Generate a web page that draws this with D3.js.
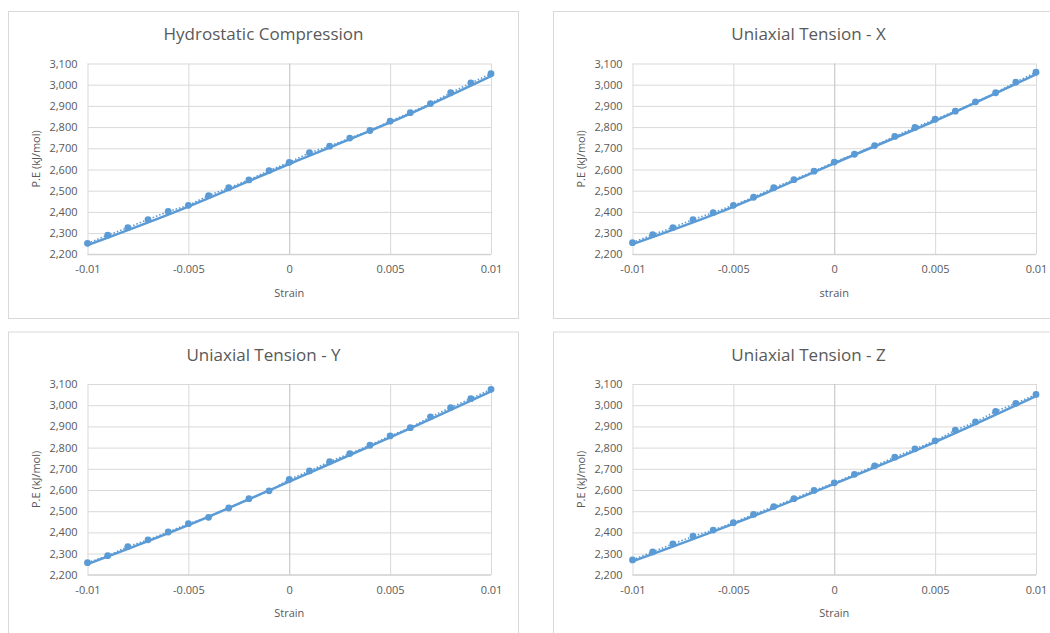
<!DOCTYPE html>
<html>
<head>
<meta charset="utf-8">
<script src="https://cdn.jsdelivr.net/npm/d3@7"></script>
<style>
  html, body { margin: 0; padding: 0; background: #ffffff; }
  svg { display: block; }
  text { font-family: "Open Sans", "Liberation Sans", sans-serif; fill: #595959; }
</style>
</head>
<body>
<svg id="chart" width="1050" height="633"></svg>
<script>
// Strain steps shared by all four load cases
const strain = [-0.01, -0.009, -0.008, -0.007, -0.006, -0.005, -0.004, -0.003, -0.002, -0.001,
                0, 0.001, 0.002, 0.003, 0.004, 0.005, 0.006, 0.007, 0.008, 0.009, 0.01];

// Potential energy (kJ/mol) at each strain
const hydrostatic = [2252, 2290, 2326, 2364, 2402, 2431, 2477, 2514, 2551, 2595, 2634,
                     2679, 2710, 2748, 2784, 2828, 2868, 2911, 2962, 3008, 3052];
const tensionX    = [2255, 2293, 2326, 2364, 2397, 2431, 2469, 2514, 2552, 2592, 2635,
                     2672, 2713, 2756, 2798, 2837, 2875, 2919, 2962, 3012, 3059];
const tensionY    = [2257, 2290, 2333, 2365, 2402, 2441, 2471, 2515, 2559, 2596, 2650,
                     2690, 2734, 2772, 2811, 2855, 2894, 2945, 2989, 3031, 3075];
const tensionZ    = [2270, 2308, 2346, 2382, 2411, 2446, 2485, 2522, 2559, 2598, 2634,
                     2674, 2714, 2755, 2794, 2832, 2882, 2921, 2971, 3009, 3051];

// Smooth fitted curves, sampled at five strains
const fitStrain = [-0.01, -0.005, 0, 0.005, 0.01];
const fitHydrostatic = [2243, 2425, 2626, 2822, 3041];
const fitX           = [2248, 2424, 2629, 2830, 3049];
const fitY           = [2250, 2434, 2640, 2848, 3065];
const fitZ           = [2263, 2440, 2629, 2826, 3043];

// Axis ticks
const yTicks = [2200, 2300, 2400, 2500, 2600, 2700, 2800, 2900, 3000, 3100];
const xTicks = [-0.01, -0.005, 0, 0.005, 0.01];
const xTickLabels = ["-0.01", "-0.005", "0", "0.005", "0.01"];

const titles = ["Hydrostatic Compression", "Uniaxial Tension - X", "Uniaxial Tension - Y", "Uniaxial Tension - Z"];
const xTitles = ["Strain", "strain", "Strain", "Strain"];
const yTitle = "P.E (kJ/mol)";

const series = [hydrostatic, tensionX, tensionY, tensionZ];
const fits = [fitHydrostatic, fitX, fitY, fitZ];

const BLUE = "#5b9bd5";
const GRID = "#d9d9d9";

const svg = d3.select("#chart");

// panel placement
const panelW = 510, panelH = 307;
const origins = [[8.5, 11.5], [553.5, 11.5], [8.5, 332], [553.5, 332]];
const plot = { left: 79, top: 52, width: 403.5, height: 190.8 };

titles.forEach((title, i) => {
  const [ox, oy] = origins[i];
  const g = svg.append("g").attr("transform", `translate(${ox},${oy})`);

  g.append("rect")
    .attr("x", 0).attr("y", 0)
    .attr("width", panelW).attr("height", panelH)
    .attr("fill", "#ffffff")
    .attr("stroke", GRID).attr("stroke-width", 1);

  g.append("text")
    .attr("x", panelW / 2).attr("y", 28.5)
    .attr("text-anchor", "middle")
    .style("font-size", "17px")
    .text(title);

  const x = d3.scaleLinear().domain([-0.01, 0.01]).range([0, plot.width]);
  const y = d3.scaleLinear().domain([2200, 3100]).range([plot.height, 0]);

  const p = g.append("g").attr("transform", `translate(${plot.left},${plot.top})`);

  // horizontal gridlines
  p.append("g")
    .call(d3.axisLeft(y).tickValues(yTicks).tickSize(-plot.width).tickFormat(""))
    .call(a => a.select(".domain").remove())
    .call(a => a.selectAll("line").attr("stroke", GRID).attr("stroke-width", 1));

  // vertical gridlines
  p.append("g")
    .attr("transform", `translate(0,${plot.height})`)
    .call(d3.axisBottom(x).tickValues(xTicks).tickSize(-plot.height).tickFormat(""))
    .call(a => a.select(".domain").remove())
    .call(a => a.selectAll("line")
      .attr("stroke", d => d === 0 ? "#bfbfbf" : GRID)
      .attr("stroke-width", 1));

  // bottom axis line
  p.append("line")
    .attr("x1", 0).attr("x2", plot.width)
    .attr("y1", plot.height).attr("y2", plot.height)
    .attr("stroke", "#cfcfcf").attr("stroke-width", 1);

  // y tick labels
  p.append("g")
    .call(d3.axisLeft(y).tickValues(yTicks).tickSize(0).tickPadding(10).tickFormat(d3.format(",")))
    .call(a => a.select(".domain").remove())
    .call(a => a.selectAll("text").style("font-size", "11px").attr("fill", "#595959")
      .style("font-family", "'Open Sans', 'Liberation Sans', sans-serif"));

  // x tick labels
  p.append("g")
    .attr("transform", `translate(0,${plot.height})`)
    .call(d3.axisBottom(x).tickValues(xTicks).tickSize(0).tickPadding(11)
      .tickFormat((d, k) => xTickLabels[k]))
    .call(a => a.select(".domain").remove())
    .call(a => a.selectAll("text").style("font-size", "11px").attr("fill", "#595959")
      .style("font-family", "'Open Sans', 'Liberation Sans', sans-serif"));

  // axis titles
  g.append("text")
    .attr("x", plot.left + x(0)).attr("y", 285)
    .attr("text-anchor", "middle")
    .style("font-size", "11px")
    .text(xTitles[i]);

  g.append("text")
    .attr("transform", `translate(31,${plot.top + plot.height / 2}) rotate(-90)`)
    .attr("text-anchor", "middle")
    .style("font-size", "11px")
    .text(yTitle);

  const vals = series[i];
  const pts = strain.map((s, k) => [s, vals[k]]);

  // dotted line joining the data points
  p.append("path")
    .datum(pts)
    .attr("fill", "none")
    .attr("stroke", BLUE)
    .attr("stroke-width", 1.6)
    .attr("stroke-dasharray", "1.5,2")
    .attr("d", d3.line().x(d => x(d[0])).y(d => y(d[1])));

  // fitted curve
  const fitPts = fitStrain.map((s, k) => [s, fits[i][k]]);
  p.append("path")
    .datum(fitPts)
    .attr("fill", "none")
    .attr("stroke", BLUE)
    .attr("stroke-width", 2.5)
    .attr("stroke-linecap", "round")
    .attr("d", d3.line().curve(d3.curveNatural).x(d => x(d[0])).y(d => y(d[1])));

  // markers
  p.append("g").selectAll("circle")
    .data(pts)
    .join("circle")
    .attr("cx", d => x(d[0]))
    .attr("cy", d => y(d[1]))
    .attr("r", 3.4)
    .attr("fill", BLUE);
});
</script>
</body>
</html>
